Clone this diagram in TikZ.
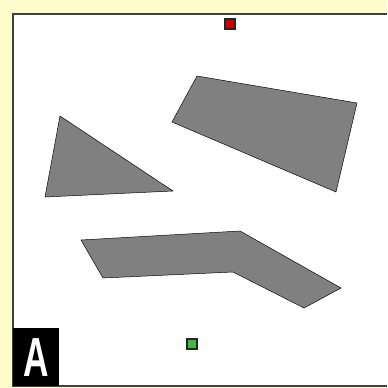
\documentclass[tikz,border=0pt]{standalone}
\usepackage{fontspec}
\newfontfamily\labelfont{Liberation Sans}
\usepackage{tikz}
\usetikzlibrary{positioning}

\begin{document}
\begin{tikzpicture}[x=0.03cm, y=-0.03cm]
    \tikzstyle{obstacle} = [draw=black, fill=gray, line join=miter]
    \tikzstyle{marker} = [draw=black!85, line width=0.9pt, minimum size=0.3cm, inner sep=0pt]

    % Fondo e cornice
    \fill[yellow!20] (0,0) rectangle (387,388);
    \useasboundingbox (0,0) rectangle (387,388);
    \fill[white] (13,14) rectangle (387,386);
    \draw[black!75, line width=1.2pt] (387,14) -- (13,14) -- (13,386) -- (387,386);

    % Ostacoli
    \draw[obstacle] (197,76) -- (357,103) -- (336,192) -- (172,122) -- cycle;
    \draw[obstacle] (60,116) -- (173,191) -- (45,197) -- cycle;
    \draw[obstacle] (81,240) -- (240,231) -- (341,288) -- (304,308) -- (233,272) -- (103,278) -- cycle;

    % Partenza e arrivo
    \node[marker, fill=red!80!black] (goal) at (230,24) {};
    \node[marker, fill=green!45!gray] (start) at (192,344) {};

    % Etichetta
    \fill[black] (13,328) rectangle (59,386);
    \node[white, inner sep=0pt, xscale=0.64] (tag) at (36,358) {\labelfont\bfseries\fontsize{47}{47}\selectfont A};
\end{tikzpicture}
\end{document}
